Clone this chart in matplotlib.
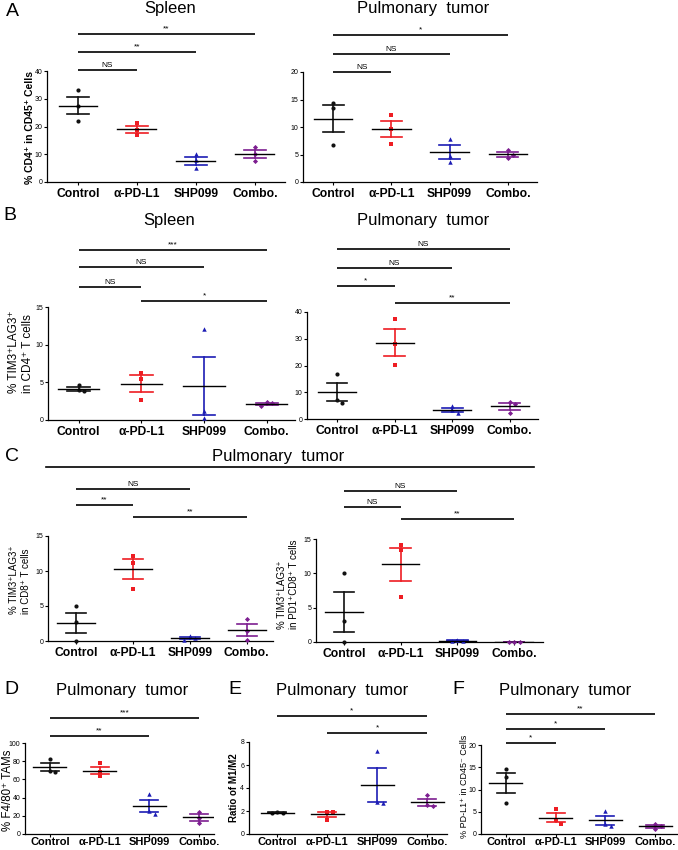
import numpy as np
import matplotlib
matplotlib.use("Agg")
import matplotlib.pyplot as plt
import matplotlib.transforms as mtransforms
from matplotlib.lines import Line2D

plt.rcParams['font.family'] = ['Liberation Sans', 'DejaVu Sans']

# ---------------- data ----------------
groups = ["Control", "α-PD-L1", "SHP099", "Combo."]

a_spleen = [[33.0, 27.5, 22.1], [21.3, 18.8, 16.8], [10.1, 7.9, 5.0], [12.6, 10.2, 7.4]]
a_tumor = [[14.4, 13.4, 6.7], [12.2, 9.6, 7.0], [7.8, 4.8, 3.6], [5.8, 5.0, 4.3]]
b_spleen = [[4.6, 4.0, 3.8], [6.3, 5.5, 2.6], [12.1, 1.2, 0.2], [2.4, 2.2, 1.9]]
b_tumor = [[17.0, 7.2, 6.0], [37.4, 28.1, 20.2], [4.9, 3.2, 2.2], [6.3, 5.7, 2.2]]
c_cd8 = [[5.0, 2.7, 0.0], [12.1, 11.2, 7.4], [0.67, 0.43, 0.2], [3.1, 1.4, 0.1]]
c_pd1cd8 = [[10.0, 3.1, 0.0], [14.1, 13.4, 6.5], [0.3, 0.2, 0.1], [0.0, 0.0, 0.0]]
d_tams = [[82.9, 69.6, 68.6], [77.5, 68.6, 63.2], [43.6, 25.7, 22.1], [24.6, 17.5, 12.5]]
e_ratio = [[1.9, 1.85, 1.8], [1.95, 1.9, 1.26], [7.2, 2.8, 2.7], [3.37, 2.5, 2.4]]
f_pdl1 = [[14.7, 12.8, 6.9], [5.6, 3.2, 2.2], [5.2, 2.2, 1.8], [2.3, 1.9, 1.1]]

# significance comparisons (group i, group j, label)
a_spleen_sig = [(0, 1, "NS"), (0, 2, "**"), (0, 3, "**")]
a_tumor_sig = [(0, 1, "NS"), (0, 2, "NS"), (0, 3, "*")]
b_spleen_sig = [(1, 3, "*"), (0, 1, "NS"), (0, 2, "NS"), (0, 3, "***")]
b_tumor_sig = [(1, 3, "**"), (0, 1, "*"), (0, 2, "NS"), (0, 3, "NS")]
c_cd8_sig = [(1, 3, "**"), (0, 1, "**"), (0, 2, "NS")]
c_pd1cd8_sig = [(1, 3, "**"), (0, 1, "NS"), (0, 2, "NS")]
d_sig = [(0, 2, "**"), (0, 3, "***")]
e_sig = [(1, 3, "*"), (0, 3, "*")]
f_sig = [(0, 1, "*"), (0, 2, "*"), (0, 3, "**")]

# ---------------- style ----------------
W, H = 678, 850
fig = plt.figure(figsize=(W / 100, H / 100), dpi=100)
colors = ['#111111', '#ee1d23', '#1c1cb4', '#7d1e90']
markers = ['o', 's', '^', 'D']
msizes = [3.0, 2.8, 3.2, 2.6]


def jitter(vals, ppu_y, d):
    order = np.argsort(-vals)
    offs = np.zeros(len(vals))
    placed = []
    for k in order:
        near = [p for p in placed if abs(vals[p] - vals[k]) * ppu_y < 4.5]
        used = {int(round(offs[p] / d)) for p in near}
        for s in [0, 1, -1, 2, -2]:
            if s not in used:
                offs[k] = s * d
                break
        placed.append(k)
    return offs


def ftext(x, y, s, **kw):
    return fig.text(x / W, 1 - y / H, s, **kw)


def panel(rect, xlim, ylim, yticks, values, comps, levels, cat_fs=8.7,
          xtick_len=2.5, xpad=2):
    x0, y0, x1, y1 = rect
    ax = fig.add_axes([x0 / W, 1 - y1 / H, (x1 - x0) / W, (y1 - y0) / H])
    ax.set_xlim(xlim)
    ax.set_ylim(ylim)
    for sp in ['top', 'right']:
        ax.spines[sp].set_visible(False)
    for sp in ['left', 'bottom']:
        ax.spines[sp].set_linewidth(0.9)
    ax.set_xticks(range(len(groups)))
    ax.set_xticklabels(groups, fontweight='bold', fontsize=cat_fs)
    ax.set_yticks(yticks)
    ax.tick_params(axis='y', labelsize=5, length=2.5, width=0.8, pad=1)
    ax.tick_params(axis='x', length=xtick_len, width=0.8, pad=xpad)
    ax.patch.set_alpha(0)
    ppu_y = (y1 - y0) / (ylim[1] - ylim[0])
    ppu_x = (x1 - x0) / (xlim[1] - xlim[0])
    d = 5.5 / ppu_x
    for i, vals in enumerate(values):
        vals = np.asarray(vals, float)
        m = vals.mean()
        sem = vals.std(ddof=1) / np.sqrt(len(vals))
        offs = jitter(vals, ppu_y, d)
        ax.plot(i + offs, vals, ls='none', marker=markers[i], color=colors[i],
                ms=msizes[i], mew=0, clip_on=False, zorder=3)
        ax.plot([i - 0.33, i + 0.33], [m, m], color='black', lw=1.0, zorder=4)
        ax.plot([i, i], [m - sem, m + sem], color=colors[i], lw=1.2, zorder=2)
        for yy in (m - sem, m + sem):
            ax.plot([i - 0.18, i + 0.18], [yy, yy], color=colors[i], lw=1.2, zorder=2)
    trans = mtransforms.blended_transform_factory(ax.transData, ax.transAxes)
    ttrans = mtransforms.offset_copy(trans, fig=fig, y=1.0, units='points')
    for (i, j, lab), lev in zip(comps, levels):
        ax.plot([i, j], [lev, lev], transform=trans, color='black', lw=1.2,
                clip_on=False, solid_capstyle='butt')
        ax.text((i + j) / 2, lev, lab, transform=ttrans, ha='center', va='bottom',
                fontsize=6)
    return ax


# ---------------- panels ----------------
panel((47, 71, 285, 182), (-0.525, 3.51), (0, 40), [0, 10, 20, 30, 40],
      a_spleen, a_spleen_sig, [1.01, 1.171, 1.333])
panel((303, 72, 537, 182), (-0.515, 3.5), (0, 20), [0, 5, 10, 15, 20],
      a_tumor, a_tumor_sig, [1.0, 1.164, 1.336])
panel((48, 307, 295, 420), (-0.49, 3.45), (0, 15), [0, 5, 10, 15],
      b_spleen, b_spleen_sig, [1.053, 1.177, 1.354, 1.504])
panel((307, 312, 538, 419), (-0.52, 3.49), (0, 40), [0, 10, 20, 30, 40],
      b_tumor, b_tumor_sig, [1.084, 1.243, 1.411, 1.589])
panel((48, 536, 273, 641), (-0.49, 3.46), (0, 15), [0, 5, 10, 15],
      c_cd8, c_cd8_sig, [1.181, 1.295, 1.448])
panel((316, 539, 543, 642), (-0.49, 3.51), (0, 15), [0, 5, 10, 15],
      c_pd1cd8, c_pd1cd8_sig, [1.194, 1.311, 1.466])
panel((25, 743, 214, 834), (-0.5, 3.3), (0, 100), [0, 20, 40, 60, 80, 100],
      d_tams, d_sig, [1.077, 1.275], cat_fs=8.0, xtick_len=2, xpad=0.5)
panel((249, 742, 447, 834), (-0.56, 3.4), (0, 8), [0, 2, 4, 6, 8],
      e_ratio, e_sig, [1.098, 1.283], cat_fs=8.0, xtick_len=2, xpad=0.5)
panel((481, 745, 677, 834), (-0.5, 3.44), (0, 20), [0, 5, 10, 15, 20],
      f_pdl1, f_sig, [1.022, 1.18, 1.348], cat_fs=8.0, xtick_len=2, xpad=0.5)

# ---------------- titles, letters, labels ----------------
tfs = 12
ftext(170, 9, "Spleen", fontsize=tfs, ha='center', va='center')
ftext(423, 8, "Pulmonary  tumor", fontsize=tfs, ha='center', va='center')
ftext(169, 220, "Spleen", fontsize=tfs, ha='center', va='center')
ftext(423, 221, "Pulmonary  tumor", fontsize=tfs, ha='center', va='center')
ftext(278, 456, "Pulmonary  tumor", fontsize=tfs, ha='center', va='center')
fig.add_artist(Line2D([46 / W, 534 / W], [1 - 467 / H, 1 - 467 / H],
                      color='black', lw=1.2))
ftext(122, 690, "Pulmonary  tumor", fontsize=tfs, ha='center', va='center')
ftext(342, 690, "Pulmonary  tumor", fontsize=tfs, ha='center', va='center')
ftext(565, 690, "Pulmonary  tumor", fontsize=tfs, ha='center', va='center')

lfs = 14
for letter, (lx, ly) in zip("ABCDEF", [(12, 12), (10, 215), (12, 457),
                                        (11, 690), (235, 690), (458, 690)]):
    ftext(lx, ly, letter, fontsize=lfs, ha='center', va='center')

ftext(30, 127, "% CD4⁺ in CD45⁺ Cells", fontsize=7.5, fontweight='bold',
      rotation=90, ha='center', va='center')
ftext(21, 352, "% TIM3⁺LAG3⁺\nin CD4⁺ T cells", fontsize=8.5, rotation=90,
      ha='center', va='center', multialignment='left')
ftext(20, 580, "% TIM3⁺LAG3⁺\nin CD8⁺ T cells", fontsize=7, rotation=90,
      ha='center', va='center', multialignment='left')
ftext(288, 584, "% TIM3⁺LAG3⁺\nin PD1⁺CD8⁺ T cells", fontsize=7, rotation=90,
      ha='center', va='center', multialignment='left')
ftext(8, 790, "% F4/80⁺ TAMs", fontsize=8.3, rotation=90, ha='center', va='center')
ftext(234, 788, "Ratio of M1/M2", fontsize=7, fontweight='bold', rotation=90,
      ha='center', va='center')
ftext(465, 786, "% PD-L1⁺ in CD45⁻ Cells", fontsize=6.5, rotation=90,
      ha='center', va='center')

fig.savefig("out.png", dpi=100)
